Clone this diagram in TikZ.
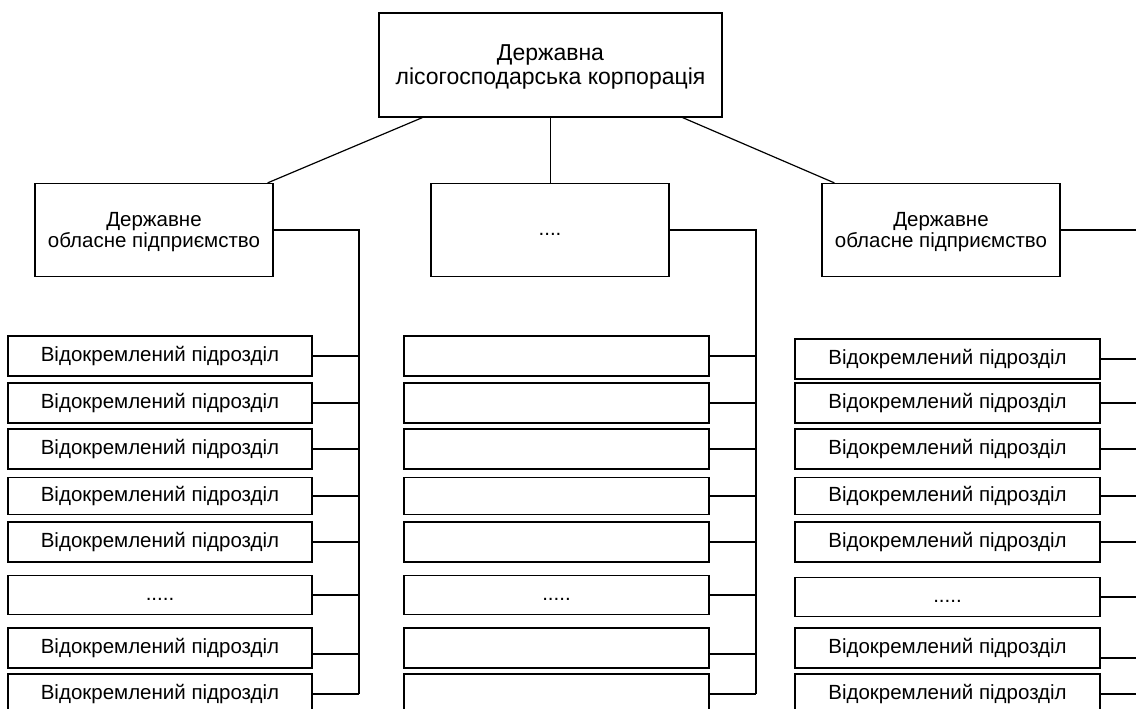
\documentclass[tikz,border=0pt]{standalone}
\usepackage{fontspec}
\setmainfont{Liberation Sans}
\begin{document}
\begin{tikzpicture}[x=1pt,y=-1pt,
  box/.style={draw, line width=1.2pt, inner sep=0pt, align=center,
    font=\fontsize{20.5}{21.5}\selectfont},
  topbox/.style={box, minimum width=343pt, minimum height=104pt,
    font=\fontsize{23}{24}\selectfont, text depth=0pt},
  midbox/.style={box, minimum width=238pt, minimum height=93pt, text depth=0pt},
  sub/.style={box, minimum width=304pt, text height=15pt, text depth=4pt},
  conn/.style={line width=1.2pt}]
\useasboundingbox (0,0) rectangle (1136,709);
\fill[white] (0,0) rectangle (1136,709);
\clip (0,0) rectangle (1136,709);

\node[topbox] (top) at (550.5,65) {Державна\\лісогосподарська корпорація};
\node[midbox] (L) at (154,230) {Державне\\обласне підприємство};
\node[midbox, text height=15pt, text depth=4pt] (M) at (550,230) {....};
\node[midbox] (R) at (941,230) {Державне\\обласне підприємство};

\draw[conn] ([xshift=44pt]top.south west) -- ([xshift=-6pt]L.north east);
\draw[conn] (top.south) -- (top.south |- M.north);
\draw[conn] ([xshift=-40pt]top.south east) -- ([xshift=13pt]R.north west);

\coordinate (lbus) at (359,0);
\coordinate (mbus) at (756,0);
\coordinate (rbus) at (1160,0);

\foreach \y/\h/\i in {356/40/1, 403/40/2, 449/40/3, 496/37/4, 542/40/5, 595/39/6, 648/40/7, 694/40/8} {
  \ifnum\i=6 \def\lbl{.....}\else\def\lbl{Відокремлений підрозділ}\fi
  \ifnum\i=6 \def\mlbl{.....}\else\def\mlbl{}\fi
  \node[sub, minimum height=\h pt] (l\i) at (160,\y) {\lbl};
  \node[sub, minimum height=\h pt, minimum width=305pt] (m\i) at (556.5,\y) {\mlbl};
}
\foreach \y/\h/\i in {359/40/1, 403/40/2, 449/40/3, 496/37/4, 542/40/5, 597/39/6, 648/40/7, 694/40/8} {
  \ifnum\i=6 \def\lbl{.....}\else\def\lbl{Відокремлений підрозділ}\fi
  \node[sub, minimum height=\h pt, minimum width=305pt] (r\i) at (947.5,\y) {\lbl};
}

\draw[conn] (L.east) -- (lbus |- L.east) -- (lbus |- l8.east);
\draw[conn] (M.east) -- (mbus |- M.east) -- (mbus |- m8.east);
\draw[conn] (R.east) -- (rbus |- R.east) -- (rbus |- r8.east);

\foreach \i in {1,2,3,4,5,6,8} {
  \draw[conn] (l\i.east) -- (lbus |- l\i.east);
  \draw[conn] (m\i.east) -- (mbus |- m\i.east);
  \draw[conn] (r\i.east) -- (rbus |- r\i.east);
}
\coordinate (l7c) at ([yshift=-6pt]l7.east);
\coordinate (m7c) at ([yshift=-6pt]m7.east);
\coordinate (r7c) at ([yshift=-10pt]r7.east);
\draw[conn] (l7c) -- (lbus |- l7c);
\draw[conn] (m7c) -- (mbus |- m7c);
\draw[conn] (r7c) -- (rbus |- r7c);
\end{tikzpicture}
\end{document}
